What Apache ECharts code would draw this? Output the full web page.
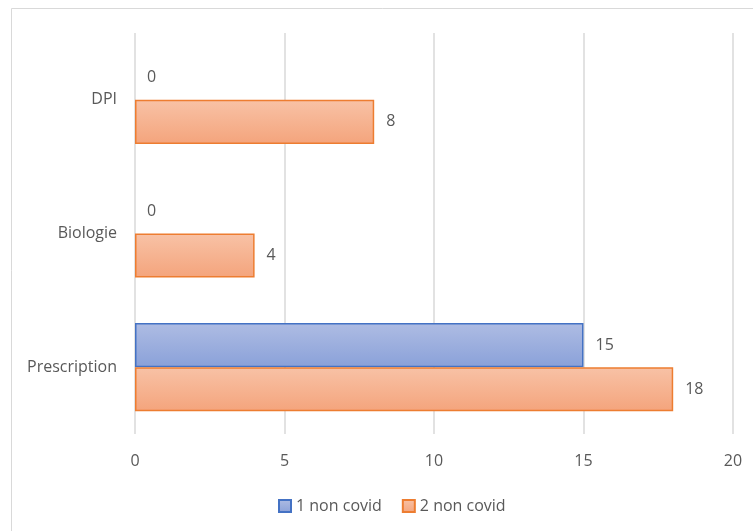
<!DOCTYPE html>
<html><head><meta charset="utf-8">
<script src="https://cdn.jsdelivr.net/npm/echarts@6/dist/echarts.min.js"></script>
<style>html,body{margin:0;padding:0;background:#fff}#c{width:753px;height:531px}</style>
</head><body><div id="c"></div>
<script>
const categories = ['Prescription', 'Biologie', 'DPI'];
const series1Name = '1 non covid';
const series2Name = '2 non covid';
const series1Values = [15, 0, 0];
const series2Values = [18, 4, 8];
const xTicks = [0, 5, 10, 15, 20];

const FONT = '"Open Sans", "Noto Sans", sans-serif';
const TXT = '#595959';
const FS = 16;
const chart = echarts.init(document.getElementById('c'));
function grad(a, b) {
  return new echarts.graphic.LinearGradient(0, 0, 0, 1, [{offset: 0, color: a}, {offset: 1, color: b}]);
}
function toData(vals) {
  return vals.map(v => v === 0 ? {value: v, itemStyle: {borderWidth: 0}} : v);
}
chart.setOption({
  animation: false,
  backgroundColor: '#fff',
  textStyle: {fontFamily: FONT},
  graphic: [{
    type: 'rect', shape: {x: 11.5, y: 8.5, width: 800, height: 600},
    style: {fill: 'none', stroke: '#d9d9d9', lineWidth: 1}, silent: true, z: -10
  }],
  grid: {left: 135, right: 20, top: 33, bottom: 97, containLabel: false},
  legend: {
    left: 273, top: 493, itemWidth: 12, itemHeight: 12, itemGap: 20,
    icon: 'rect',
    textStyle: {color: TXT, fontSize: FS, fontFamily: FONT},
    data: [series1Name, series2Name]
  },
  xAxis: {
    type: 'value', min: xTicks[0], max: xTicks[xTicks.length - 1], interval: 5,
    axisLine: {show: false}, axisTick: {show: false},
    splitLine: {show: true, lineStyle: {color: '#d9d9d9', width: 1.5}},
    axisLabel: {color: TXT, fontSize: FS, margin: 19, fontFamily: FONT}
  },
  yAxis: {
    type: 'category', data: categories,
    axisLine: {show: false}, axisTick: {show: false},
    axisLabel: {color: TXT, fontSize: FS, margin: 18, fontFamily: FONT}
  },
  series: [{
    name: series1Name, type: 'bar', data: toData(series1Values),
    barGap: '0%', barCategoryGap: '34%',
    itemStyle: {color: grad('#aebce3', '#8aa1d9'), borderColor: '#4472c4', borderWidth: 1.5},
    label: {show: true, position: 'right', distance: 12, color: TXT, fontSize: FS, fontFamily: FONT}
  }, {
    name: series2Name, type: 'bar', data: toData(series2Values),
    barGap: '0%', barCategoryGap: '34%',
    itemStyle: {color: grad('#f8c2a6', '#f4a47c'), borderColor: '#ed7d31', borderWidth: 1.5},
    label: {show: true, position: 'right', distance: 12, color: TXT, fontSize: FS, fontFamily: FONT}
  }]
});
</script></body></html>
